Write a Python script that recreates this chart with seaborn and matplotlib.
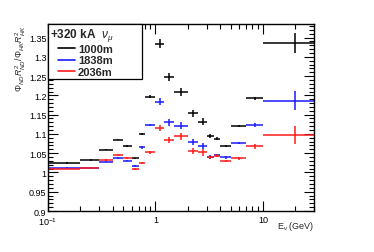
import numpy as np
import pandas as pd
import matplotlib
matplotlib.use("Agg")
import matplotlib.pyplot as plt
import seaborn as sns
from matplotlib.lines import Line2D
from matplotlib.legend_handler import HandlerLine2D
from matplotlib.ticker import FixedLocator, FuncFormatter, MultipleLocator

# bin edges (GeV)
edges = [0.1, 0.2, 0.3, 0.4, 0.5, 0.6, 0.7, 0.8, 1.0, 1.2, 1.5, 2.0,
         2.5, 3.0, 3.5, 4.0, 5.0, 7.0, 10.0, 30.0]

# ratios
r_1000 = [1.024, 1.033, 1.059, 1.085, 1.069, 1.0365, 1.100, 1.197, 1.334, 1.248,
          1.209, 1.153, 1.132, 1.095, 1.088, 1.069, 1.121, 1.192, 1.337]
r_1838 = [1.012, 1.011, 1.028, 1.037, 1.031, 1.017, 1.065, 1.123, 1.183, 1.130,
          1.121, 1.078, 1.069, 1.041, 1.045, 1.039, 1.076, 1.123, 1.186]
r_2036 = [1.010, 1.012, 1.033, 1.046, 1.037, 1.009, 1.025, 1.052, 1.116, 1.084,
          1.0935, 1.056, 1.052, 1.039, 1.043, 1.030, 1.0365, 1.068, 1.097]

e_1000 = [0.002, 0.002, 0.002, 0.002, 0.002, 0.002, 0.003, 0.003, 0.011, 0.0095,
          0.0095, 0.009, 0.009, 0.005, 0.004, 0.003, 0.003, 0.005, 0.026]
e_1838 = [0.002, 0.002, 0.002, 0.002, 0.002, 0.002, 0.003, 0.003, 0.009, 0.009,
          0.009, 0.008, 0.008, 0.005, 0.004, 0.003, 0.003, 0.006, 0.025]
e_2036 = [0.002, 0.002, 0.002, 0.002, 0.002, 0.002, 0.003, 0.003, 0.008, 0.008,
          0.008, 0.008, 0.008, 0.005, 0.004, 0.003, 0.003, 0.006, 0.023]

labels = ["1000m", "1838m", "2036m"]
colors = ["black", "#1a1aff", "#ff1a1a"]

sns.set_theme(style="ticks")
plt.rcParams['font.family'] = ['Liberation Sans', 'DejaVu Sans']
plt.rcParams['mathtext.fontset'] = 'custom'
plt.rcParams['mathtext.rm'] = 'Liberation Sans'
plt.rcParams['mathtext.it'] = 'Liberation Sans:italic'
plt.rcParams['mathtext.bf'] = 'Liberation Sans:bold'

lo = np.array(edges[:-1])
hi = np.array(edges[1:])
center = (lo + hi) / 2

df = pd.DataFrame({"lo": lo, "hi": hi, "E": center})

fig = plt.figure(figsize=(3.74, 2.53), dpi=100)
ax = fig.add_axes([0.128, 0.162, 0.712, 0.739])

for lab, col, r, e in zip(labels, colors, [r_1000, r_1838, r_2036], [e_1000, e_1838, e_2036]):
    ax.errorbar(df["E"], r, yerr=e, xerr=[df["E"] - df["lo"], df["hi"] - df["E"]],
                fmt="none", ecolor=col, elinewidth=1.1, capsize=0)

ax.set_xscale("log")
ax.set_xlim(0.1, 30)
ax.set_ylim(0.9, 1.385)

ax.xaxis.set_major_locator(FixedLocator([0.1, 1, 10]))
ax.xaxis.set_major_formatter(FuncFormatter(
    lambda v, p: {0.1: r"10$^{-1}$", 1: "1", 10: "10"}.get(round(v, 3), "")))
ax.xaxis.set_minor_locator(FixedLocator(
    [0.2, 0.3, 0.4, 0.5, 0.6, 0.7, 0.8, 0.9, 2, 3, 4, 5, 6, 7, 8, 9, 20, 30]))
ax.xaxis.set_minor_formatter(FuncFormatter(lambda v, p: ""))
ax.yaxis.set_major_locator(MultipleLocator(0.05))
ax.yaxis.set_minor_locator(MultipleLocator(0.01))
ax.yaxis.set_major_formatter(FuncFormatter(lambda v, p: "%g" % round(v, 2)))

ax.tick_params(which="both", direction="in", top=True, right=True,
               labelsize=6.5, colors="black")
ax.tick_params(axis="y", pad=1.0)
ax.tick_params(axis="x", pad=3)
ax.tick_params(which="major", length=7, width=0.8)
ax.tick_params(which="minor", length=3.5, width=0.8)
for s in ax.spines.values():
    s.set_linewidth(1.0)
    s.set_color("black")

ax.set_xlabel(r"E$_{\nu}$ (GeV)", fontsize=6.5, ha="right", va="center")
ax.xaxis.set_label_coords(1.0, -0.078)
ax.set_ylabel(r"$\Phi_{ND}R^{2}_{ND}/\Phi_{HK}R^{2}_{HK}$", fontsize=6.3,
              ha="right", va="center")
ax.yaxis.set_label_coords(-0.1, 1.0)

handles = [Line2D([0], [0], color=c, lw=1.2) for c in colors]
leg = ax.legend(handles, labels, loc="upper left",
                bbox_to_anchor=(0.0, 0.72, 0.353, 0.28), mode="expand",
                title=r"+320 kA  $\nu_{\mu}$", alignment="left",
                prop={"weight": "bold", "size": 8}, fancybox=False,
                framealpha=1, edgecolor="black", borderpad=0.2,
                handlelength=2.2, handletextpad=0.3, labelspacing=0.1,
                borderaxespad=0,
                handler_map={Line2D: HandlerLine2D(xpad=0.7)})
leg.get_title().set_fontweight("bold")
leg.get_title().set_fontsize(8.5)
leg.get_frame().set_linewidth(0.9)

fig.savefig("out.png", dpi=100)
